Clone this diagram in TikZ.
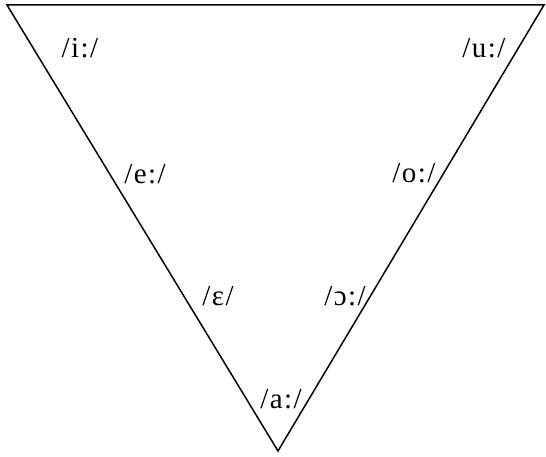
\documentclass[tikz,border=0pt]{standalone}
\usepackage{fontspec}
\setmainfont{Liberation Serif}
\usepackage{tikz}
\usetikzlibrary{calc}
\tikzset{
  vowel/.style={font=\fontsize{29}{32}\selectfont\addfontfeature{LetterSpace=5}, inner sep=0pt, anchor=center},
  edge/.style={line width=1.5pt, line join=miter}
}

\begin{document}
\begin{tikzpicture}[x=1pt,y=1pt]
  \useasboundingbox (0,0) rectangle (546,457);
  % corners of the vowel triangle
  \coordinate (front) at (7,452);
  \coordinate (back)  at (544,452);
  \coordinate (open)  at (278,6);
  \draw[edge] (front) -- (back) -- (open) -- cycle;

  % front vowels
  \node[vowel] (ii) at (80,409) {/i:/};
  \node[vowel] (ee) at (145,283) {/e:/};
  \node[vowel] (eps) at (218,161) {/ɛ/};
  % back vowels
  \node[vowel] (uu) at (484,409) {/u:/};
  \node[vowel] (oo) at (414,284) {/o:/};
  \node[vowel] (oopen) at (345,161) {/ɔ:/};
  % open vowel
  \node[vowel] (aa) at (281,58) {/a:/};
\end{tikzpicture}
\end{document}
